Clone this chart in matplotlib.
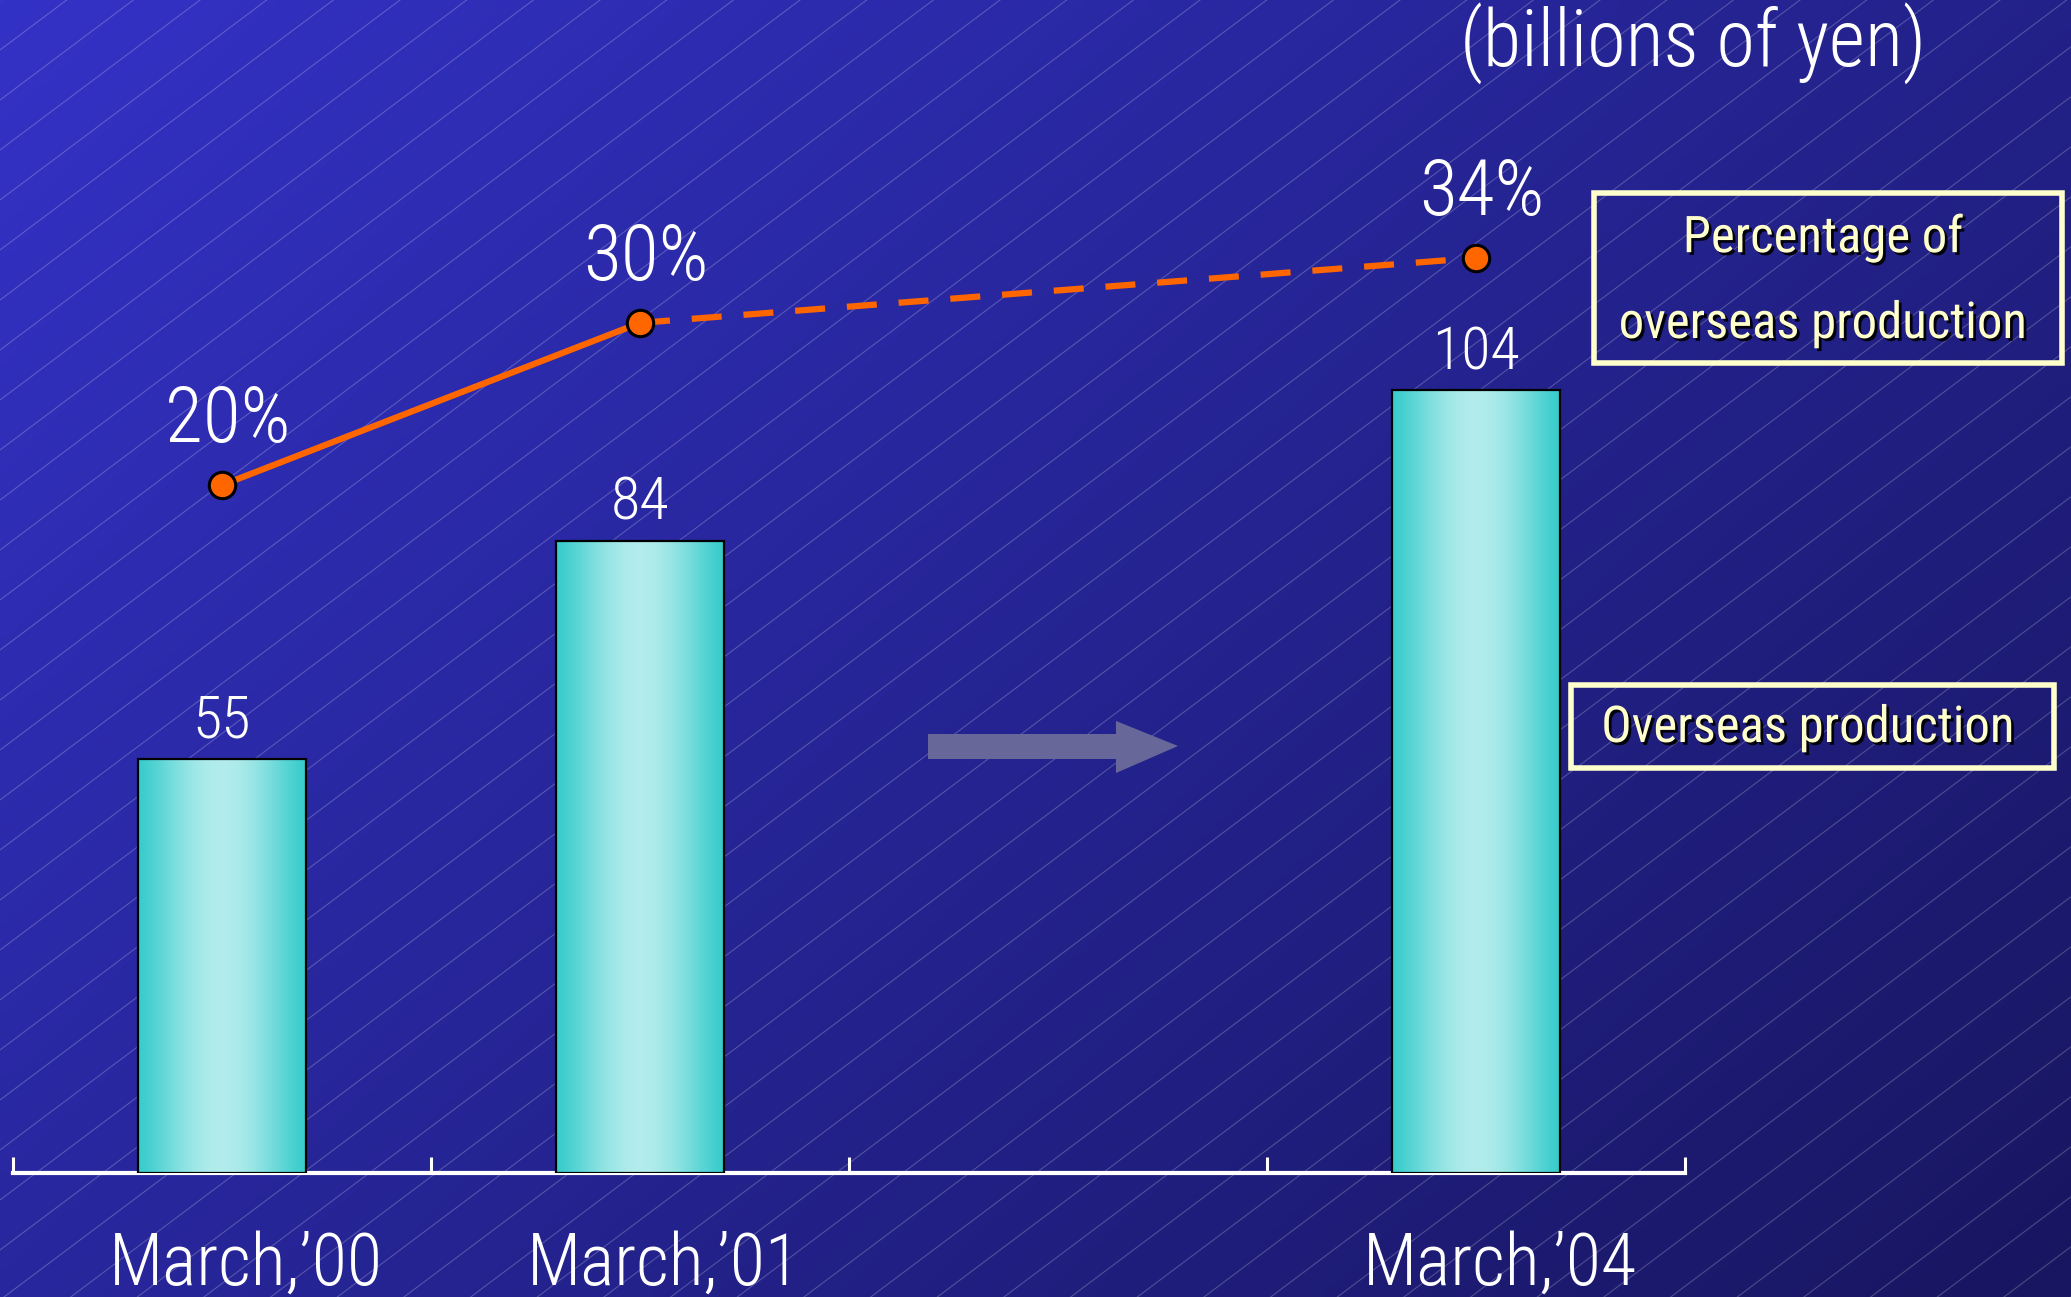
import numpy as np
import matplotlib
matplotlib.use("Agg")
import matplotlib.pyplot as plt
from matplotlib import font_manager
from matplotlib.collections import LineCollection
from matplotlib.patches import Rectangle, Polygon
from matplotlib.transforms import ScaledTranslation
import matplotlib.patheffects as pe

# ---- data -------------------------------------------------------------
periods = ["March,\u201900", "March,\u201901", "", "March,\u201904"]
overseas_production = [55, 84, np.nan, 104]      # billions of yen
overseas_share = [20, 30, np.nan, 34]            # percent of total production
unit_label = "(billions of yen)"
share_legend = ["Percentage of", "overseas production"]
production_legend = "Overseas production"

# ---- font: prefer a narrow sans ----------------------------------------
entries = font_manager.fontManager.ttflist
installed = {f.name for f in entries}
narrow = ["Roboto Condensed", "Liberation Sans Narrow", "Noto Sans Condensed",
          "Open Sans Condensed", "Arial Narrow", "Noto Sans Display Condensed"]
family = next((n for n in narrow if n in installed), None)
stretch = "normal"
if family is None:
    for base in ("Noto Sans", "Open Sans", "Roboto", "Inter"):
        if any(f.name == base and str(f.stretch) in ("condensed", "semi-condensed")
               for f in entries):
            family, stretch = base, "condensed"
            break
if family is None:
    family = "Liberation Sans" if "Liberation Sans" in installed else "DejaVu Sans"
plt.rcParams["font.family"] = [family, "DejaVu Sans"]
plt.rcParams["font.stretch"] = stretch
has_light = any(f.name == family and f.weight in (300, "light") for f in entries)
thin = "light" if has_light else "normal"

# ---- canvas -----------------------------------------------------------
W, H, DPI = 2071, 1297, 100
fig = plt.figure(figsize=(W / DPI, H / DPI), dpi=DPI)


def px_box(x0, y0, x1, y1):
    """Pixel box measured from the top-left corner -> inches for dpi_scale_trans."""
    return x0 / DPI, (H - y1) / DPI, (x1 - x0) / DPI, (y1 - y0) / DPI


# background: diagonal blue gradient with fine pinstripes
bg = fig.add_axes([0, 0, 1, 1], zorder=0)
gy, gx = np.mgrid[0:1:120j, 0:1:200j]
s = 0.6 * gx + 0.4 * gy
c_top = np.array([51, 50, 198]) / 255
c_bot = np.array([24, 22, 96]) / 255
grad = c_top + (c_bot - c_top) * s[..., None]
bg.imshow(grad, extent=(0, W, H, 0), aspect="auto", interpolation="bilinear")
slope, step = 0.75, 50
offsets = np.arange(0, H + slope * W + step, step)
segs = [[(0, b), (W, b - slope * W)] for b in offsets]
bg.add_collection(LineCollection(segs, colors=[(1, 1, 1, 0.22)], linewidths=0.8))
bg.set_xlim(0, W)
bg.set_ylim(H, 0)
bg.axis("off")

# ---- main axes --------------------------------------------------------
base_px = 1173
ax = fig.add_axes([13 / W, (H - base_px) / H, (1685 - 13) / W, base_px / H], zorder=2)
ax.set_facecolor("none")
x = np.arange(len(periods))
prod = np.array(overseas_production, dtype=float)
ok = np.isfinite(prod)

bars = ax.bar(x[ok], prod[ok], width=0.4, facecolor="none", edgecolor="black",
              linewidth=1.6, zorder=4)
t = np.linspace(0, 1, 256)
w = np.sin(np.pi * t) ** 1.3
teal = np.array([56, 204, 204]) / 255
pale = np.array([178, 236, 236]) / 255
bar_grad = (teal + (pale - teal) * w[:, None])[None, :, :]
for b in bars:
    x0, y0, bw, bh = b.get_x(), b.get_y(), b.get_width(), b.get_height()
    im = ax.imshow(bar_grad, extent=(x0, x0 + bw, y0, y0 + bh), aspect="auto",
                   interpolation="bicubic", zorder=3)
    im.set_clip_path(b)

value_texts = []
for xi, v in zip(x[ok], prod[ok]):
    value_texts.append(ax.annotate(f"{v:g}", (xi, v), xytext=(0, 27),
                                   textcoords="offset points", ha="center",
                                   va="center", fontsize=47, color="white",
                                   fontweight=thin, zorder=5))

ax.set_xlim(-0.5, len(periods) - 0.5)
ax.set_ylim(0, 155.9)
for side in ("top", "left", "right"):
    ax.spines[side].set_visible(False)
ax.spines["bottom"].set_color("white")
ax.spines["bottom"].set_linewidth(3)
ax.set_yticks([])
ax.set_xticks([])
ax.set_xticks(np.arange(len(periods) + 1) - 0.5, minor=True)
ax.tick_params(axis="x", which="minor", direction="in", length=11.5, width=2.2,
               color="white", labelbottom=False)

label_tf = ax.get_xaxis_transform() + ScaledTranslation(24 / DPI, -112 / DPI, fig.dpi_scale_trans)
period_texts = []
for xi, lab in zip(x, periods):
    if lab:
        period_texts.append(ax.text(xi, 0, lab, transform=label_tf, ha="center",
                                    va="baseline", fontsize=51, color="white",
                                    fontweight=thin, clip_on=False))

# ---- percentage line on its own scale ---------------------------------
ax2 = ax.twinx()
ax2.set_zorder(3)
ax2.set_facecolor("none")
ax2.set_ylim(-22.4, 49.9)
ax2.set_yticks([])
for sp in ax2.spines.values():
    sp.set_visible(False)
share = np.array(overseas_share, dtype=float)
idx = np.where(np.isfinite(share))[0]
orange = "#FF6600"
ax2.plot(x[idx[:2]], share[idx[:2]], color=orange, lw=4.5, solid_capstyle="butt", zorder=3)
dashed, = ax2.plot(x[idx[1:]], share[idx[1:]], color=orange, lw=4.5, zorder=3)
dashed.set_dashes((4.8, 3.5))
dashed.set_dash_capstyle("butt")
ax2.plot(x[idx], share[idx], ls="none", marker="o", ms=19, mfc=orange, mec="black",
         mew=2.2, zorder=4)
share_texts = []
for xi in idx:
    share_texts.append(ax2.annotate(f"{share[xi]:g}%", (x[xi], share[xi]), xytext=(4, 46),
                                    textcoords="offset points", ha="center",
                                    va="center", fontsize=54, color="white",
                                    fontweight=thin))

# ---- annotations ------------------------------------------------------
unit_text = fig.text(1693 / W, 1 - 44 / H, unit_label, ha="center", va="center",
                     fontsize=56, color="white", fontweight=thin, zorder=5)

shadow = [pe.SimplePatchShadow(offset=(2, -2), shadow_rgbFace="black", alpha=0.9), pe.Normal()]
cream = "#FFFFCC"
for box in (px_box(1594, 193, 2062, 363), px_box(1571, 685, 2054, 768)):
    fig.add_artist(Rectangle(box[:2], box[2], box[3], transform=fig.dpi_scale_trans,
                             fill=False, edgecolor=cream, linewidth=4, zorder=5))
legend_texts = []
for line, ypx in zip(share_legend, (238, 324)):
    legend_texts.append(fig.text(1823 / W, 1 - ypx / H, line, ha="center", va="center",
                                 fontsize=40, color=cream, path_effects=shadow, zorder=6))
legend_texts.append(fig.text(1808 / W, 1 - 728 / H, production_legend, ha="center",
                             va="center", fontsize=40, color=cream,
                             path_effects=shadow, zorder=6))

# trend arrow between the actual and planned periods
arrow_px = [(928, 734), (1116, 734), (1116, 721), (1178, 746),
            (1116, 773), (1116, 759), (928, 759)]
fig.add_artist(Polygon([(px / DPI, (H - py) / DPI) for px, py in arrow_px],
                       closed=True, transform=fig.dpi_scale_trans,
                       facecolor="#67679A", edgecolor="none", zorder=5))


# size each text group so that its printed width suits the layout
def fit_group(texts, widths_px, max_size):
    renderer = fig.canvas.get_renderer()
    ratios = [wd / tx.get_window_extent(renderer).width for tx, wd in zip(texts, widths_px)]
    size = min(texts[0].get_fontsize() * float(np.mean(ratios)), max_size)
    for tx in texts:
        tx.set_fontsize(size)


fit_group(value_texts, [58, 58, 90], 50)
fit_group(share_texts, [127, 124, 125], 56)
fit_group(period_texts, [277, 277, 277], 52)
fit_group([unit_text], [467], 60)
fit_group(legend_texts, [275, 409, 420], 42)

fig.savefig("out.png", dpi=DPI)
